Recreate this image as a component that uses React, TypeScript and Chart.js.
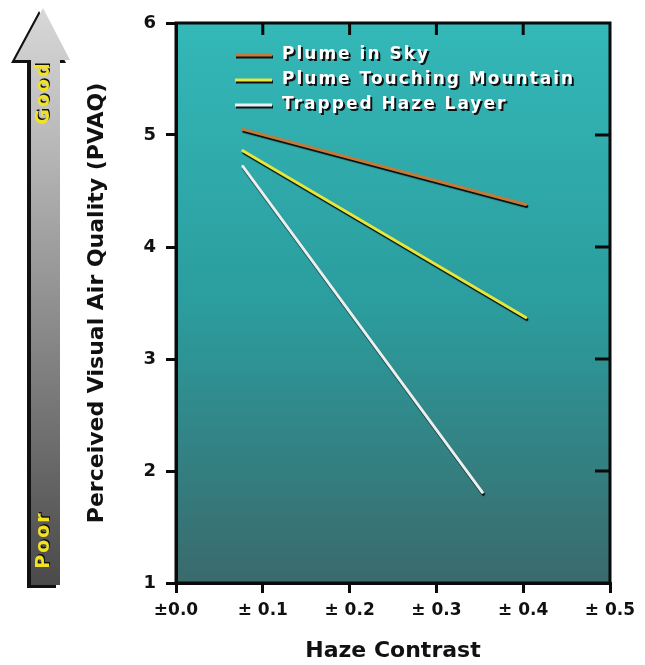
import React, { useEffect, useRef } from 'react';
import { Chart, registerables } from 'chart.js';

Chart.register(...registerables);

// ---- data ----
const xTickLabels = ['±0.0', '± 0.1', '± 0.2', '± 0.3', '± 0.4', '± 0.5'];
const seriesNames = ['Plume in Sky', 'Plume Touching Mountain', 'Trapped Haze Layer'];
const plumeSkyX = [0.077, 0.403];
const plumeSkyY = [5.05, 4.38];
const mountainX = [0.077, 0.403];
const mountainY = [4.86, 3.37];
const hazeX = [0.077, 0.353];
const hazeY = [4.72, 1.81];
const seriesColors = ['#c27b3a', '#e6e63c', '#e8f0f0'];
const scaleWords = ['Good', 'Poor'];
const xTitle = 'Haze Contrast';
const yTitle = 'Perceived Visual Air Quality (PVAQ)';

const FONT = '"DejaVu Sans", sans-serif';

const toPts = (xs: number[], ys: number[]) => xs.map((x, i) => ({ x, y: ys[i] }));

const bgPlugin = {
  id: 'bgPlugin',
  beforeDraw(chart: any) {
    const { ctx, chartArea: a } = chart;
    ctx.save();
    const g = ctx.createLinearGradient(0, a.top, 0, a.bottom);
    g.addColorStop(0, '#34b8b8');
    g.addColorStop(0.5, '#2b9d9e');
    g.addColorStop(1, '#3a6a6c');
    ctx.fillStyle = g;
    ctx.fillRect(a.left, a.top, a.right - a.left, a.bottom - a.top);

    // quality arrow on the left
    const top = 8;
    const base = 60;
    const bottom = a.bottom + 2;
    const sL = 31, sR = 60, hL = 15, hR = 70, apex = 43;
    const shape = (dx: number, dy: number) => {
      ctx.beginPath();
      ctx.moveTo(apex + dx, top + dy);
      ctx.lineTo(hR + dx, base + dy);
      ctx.lineTo(sR + dx, base + dy);
      ctx.lineTo(sR + dx, bottom + dy);
      ctx.lineTo(sL + dx, bottom + dy);
      ctx.lineTo(sL + dx, base + dy);
      ctx.lineTo(hL + dx, base + dy);
      ctx.closePath();
    };
    ctx.fillStyle = '#111';
    shape(-4, 3);
    ctx.fill();
    const ag = ctx.createLinearGradient(0, top, 0, bottom);
    ag.addColorStop(0, '#d8d8d8');
    ag.addColorStop(0.2, '#bdbdbd');
    ag.addColorStop(1, '#4a4a4a');
    ctx.fillStyle = ag;
    shape(0, 0);
    ctx.fill();

    ctx.font = `bold 19px ${FONT}`;
    (ctx as any).letterSpacing = '2px';
    ctx.textAlign = 'center';
    ctx.textBaseline = 'middle';
    const words: [string, number][] = [[scaleWords[0], 93], [scaleWords[1], 540]];
    for (const [w, cy] of words) {
      ctx.save();
      ctx.translate(44, cy);
      ctx.rotate(-Math.PI / 2);
      ctx.fillStyle = '#111';
      ctx.fillText(w, 1.5, 1.5);
      ctx.fillStyle = '#f2e224';
      ctx.fillText(w, 0, 0);
      ctx.restore();
    }
    ctx.restore();
  },
  beforeDatasetDraw(chart: any) {
    const ctx = chart.ctx;
    ctx.save();
    ctx.shadowColor = 'rgba(0,0,0,0.95)';
    ctx.shadowOffsetX = 1;
    ctx.shadowOffsetY = 2;
    ctx.shadowBlur = 1;
  },
  afterDatasetDraw(chart: any) {
    chart.ctx.restore();
  },
  afterDraw(chart: any) {
    const { ctx, chartArea: a, scales } = chart;
    ctx.save();
    ctx.strokeStyle = '#0a0a0a';
    ctx.lineWidth = 3;
    ctx.strokeRect(a.left, a.top, a.right - a.left, a.bottom - a.top);
    // inward ticks on top and right
    ctx.beginPath();
    scales.x.ticks.forEach((t: any, i: number) => {
      if (i === 0 || i === scales.x.ticks.length - 1) return;
      const px = scales.x.getPixelForValue(t.value);
      ctx.moveTo(px, a.top);
      ctx.lineTo(px, a.top + 12);
    });
    scales.y.ticks.forEach((t: any, i: number) => {
      if (i === 0 || i === scales.y.ticks.length - 1) return;
      const py = scales.y.getPixelForValue(t.value);
      ctx.moveTo(a.right, py);
      ctx.lineTo(a.right - 15, py);
    });
    ctx.stroke();

    // legend
    const lx = 235, ly = 55, step = 25;
    chart.data.datasets.forEach((ds: any, i: number) => {
      const y = ly + i * step;
      ctx.lineWidth = 3;
      ctx.strokeStyle = '#111';
      ctx.beginPath();
      ctx.moveTo(lx + 1, y + 2);
      ctx.lineTo(lx + 38, y + 2);
      ctx.stroke();
      ctx.strokeStyle = ds.borderColor;
      ctx.beginPath();
      ctx.moveTo(lx, y);
      ctx.lineTo(lx + 37, y);
      ctx.stroke();
      ctx.font = `bold 17px ${FONT}`;
      (ctx as any).letterSpacing = '2px';
      ctx.textAlign = 'left';
      ctx.textBaseline = 'middle';
      ctx.fillStyle = '#111';
      ctx.fillText(ds.label, lx + 49, y + 2);
      ctx.fillStyle = '#ffffff';
      ctx.fillText(ds.label, lx + 47, y);
    });
    ctx.restore();
  },
};

export default function App() {
  const ref = useRef<HTMLCanvasElement | null>(null);
  useEffect(() => {
    if (!ref.current) return;
    const chart = new Chart(ref.current, {
      type: 'line',
      data: {
        datasets: [
          { label: seriesNames[0], data: toPts(plumeSkyX, plumeSkyY), borderColor: seriesColors[0] },
          { label: seriesNames[1], data: toPts(mountainX, mountainY), borderColor: seriesColors[1] },
          { label: seriesNames[2], data: toPts(hazeX, hazeY), borderColor: seriesColors[2] },
        ].map((d) => ({ ...d, borderWidth: 3, pointRadius: 0, fill: false, tension: 0, borderCapStyle: 'round' as const })),
      },
      options: {
        responsive: false,
        animation: false,
        layout: { padding: { top: 23, right: 35, left: 0, bottom: 0 } },
        plugins: { legend: { display: false }, tooltip: { enabled: false } },
        scales: {
          x: {
            type: 'linear',
            min: 0,
            max: 0.5,
            afterFit: (s: any) => { s.height = 82; },
            ticks: {
              stepSize: 0.1,
              color: '#111',
              font: { family: FONT, size: 17, weight: 'bold' },
              padding: 7,
              maxRotation: 0,
              callback: (_v: any, i: number) => xTickLabels[i],
            },
            grid: { drawOnChartArea: false, drawTicks: true, tickLength: 10, color: '#0a0a0a', lineWidth: 3 },
            border: { color: '#0a0a0a', width: 3 },
            title: { display: true, text: xTitle, color: '#111', font: { family: FONT, size: 22, weight: 'bold' }, padding: { top: 0, bottom: 1 } },
          },
          y: {
            type: 'linear',
            min: 1,
            max: 6,
            afterFit: (s: any) => { s.width = 176; },
            ticks: {
              stepSize: 1,
              color: '#111',
              font: { family: FONT, size: 18, weight: 'bold' },
              padding: 10,
            },
            grid: { drawOnChartArea: false, drawTicks: true, tickLength: 10, color: '#0a0a0a', lineWidth: 3 },
            border: { color: '#0a0a0a', width: 3 },
            title: { display: true, text: yTitle, color: '#111', font: { family: FONT, size: 22, weight: 'bold' }, padding: { top: 84, bottom: 0 } },
          },
        },
      },
      plugins: [bgPlugin],
    } as any);
    return () => chart.destroy();
  }, []);
  return (
    <div style={{ position: 'fixed', left: 0, top: 0, width: 645, height: 665, background: '#fff' }}>
      <canvas ref={ref} width={645} height={665} style={{ display: 'block' }} />
    </div>
  );
}
